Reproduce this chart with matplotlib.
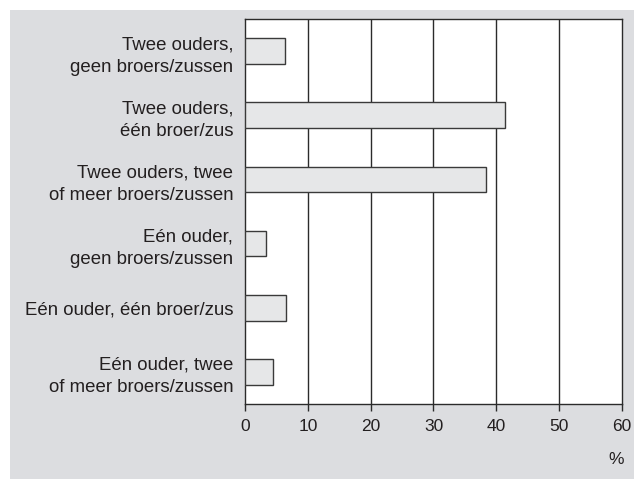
import matplotlib
matplotlib.use("Agg")
import matplotlib.pyplot as plt
from matplotlib.patches import Rectangle

# Data
labels = [
    "Twee ouders,\ngeen broers/zussen",
    "Twee ouders,\néén broer/zus",
    "Twee ouders, twee\nof meer broers/zussen",
    "Eén ouder,\ngeen broers/zussen",
    "Eén ouder, één broer/zus",
    "Eén ouder, twee\nof meer broers/zussen",
]
values = [6.4, 41.4, 38.4, 3.3, 6.5, 4.4]
xticks = [0, 10, 20, 30, 40, 50, 60]

plt.rcParams['font.family'] = ['Liberation Sans', 'DejaVu Sans']
text_color = '#231f20'
bg = '#dcdde0'

fig = plt.figure(figsize=(6.34, 4.79), dpi=100)
fig.patch.set_facecolor('white')
fig.patches.append(Rectangle((10 / 634, 0), 1 - 10 / 634, 469 / 479,
                             transform=fig.transFigure, facecolor=bg,
                             edgecolor='none', zorder=-5))

ax = fig.add_axes([245 / 634, 75 / 479, 377 / 634, 385 / 479])
ax.set_facecolor('white')

ypos = list(range(len(labels)))
ax.barh(ypos, values, height=0.4, color='#e6e7e8', edgecolor='#3a3a3a',
        linewidth=1.0, zorder=3)

ax.set_xlim(0, 60)
ax.set_ylim(len(labels) - 0.5, -0.5)
ax.set_xticks(xticks)
ax.set_xticklabels([str(t) for t in xticks])
ax.set_yticks(ypos)
ax.set_yticklabels(labels, linespacing=1.42, ha='right')

for t in xticks[1:-1]:
    ax.axvline(t, color='#2b2b2b', linewidth=1.0, zorder=1)

for side in ['left', 'bottom', 'right', 'top']:
    ax.spines[side].set_color('#2b2b2b')
    ax.spines[side].set_linewidth(1.0)

ax.tick_params(axis='y', length=0, pad=8.5, labelsize=13.4, labelcolor=text_color)
ax.tick_params(axis='x', length=5, width=1.0, color='#2b2b2b', pad=6,
               labelsize=12.5, labelcolor=text_color)

fig.text(616 / 634, 1 - 460 / 479, '%', ha='center', va='center',
         fontsize=12.5, color=text_color)

fig.savefig("out.png", dpi=100)
